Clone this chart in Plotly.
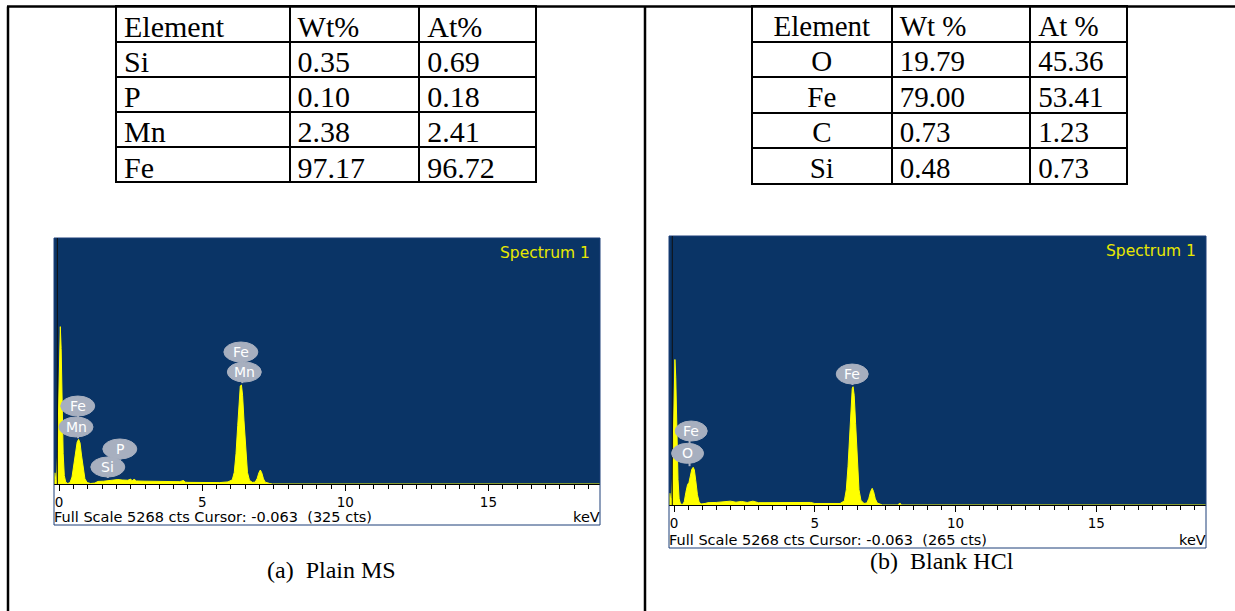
import plotly.graph_objects as go

W, H = 1235, 611

# ---------------- composition tables ----------------
tbl_a_header = ["Element", "Wt%", "At%"]
tbl_a_element = ["Si", "P", "Mn", "Fe"]
tbl_a_wt = ["0.35", "0.10", "2.38", "97.17"]
tbl_a_at = ["0.69", "0.18", "2.41", "96.72"]

tbl_b_header = ["Element", "Wt %", "At %"]
tbl_b_element = ["O", "Fe", "C", "Si"]
tbl_b_wt = ["19.79", "79.00", "0.73", "0.48"]
tbl_b_at = ["45.36", "53.41", "1.23", "0.73"]

# ---------------- EDS spectra (energy keV, counts) ----------------
full_scale = 5268
cursor_kev = -0.063

kev_a = [-0.18, -0.15, -0.12, -0.09, -0.05, -0.02, 0.01, 0.04, 0.07, 0.10, 0.14, 0.18,
         0.23, 0.30, 0.38, 0.45, 0.52, 0.58, 0.63, 0.68, 0.73, 0.78, 0.84, 0.90, 0.98,
         1.10, 1.25, 1.35, 1.55, 1.70, 1.80, 1.95, 2.05, 2.20, 2.40, 2.50, 2.55, 2.62,
         2.70, 3.00, 3.40, 3.80, 4.20, 4.35, 4.40, 4.50, 4.80, 5.10, 5.20, 5.30, 5.60,
         5.90, 6.05, 6.12, 6.18, 6.24, 6.29, 6.33, 6.37, 6.41, 6.46, 6.52, 6.58, 6.65,
         6.75, 6.85, 6.92, 6.98, 7.03, 7.08, 7.14, 7.20, 7.28, 7.36, 7.45, 19.0]
cts_a = [0, 240, 90, 60, 700, 1900, 3000, 3370, 2900, 1700, 650, 180,
         40, 10, 30, 150, 420, 700, 900, 957, 880, 620, 300, 110, 30,
         10, 20, 55, 60, 75, 70, 90, 95, 85, 80, 105, 70, 100,
         65, 60, 55, 55, 50, 75, 40, 35, 30, 30, 25, 30, 30,
         45, 90, 250, 650, 1250, 1800, 2100, 2120, 1900, 1350, 700, 250, 80,
         35, 40, 120, 240, 300, 240, 110, 40, 20, 10, 0, 0]
cts_a_reading = 325

kev_b = [-0.18, -0.15, -0.12, -0.08, -0.05, -0.02, 0.01, 0.03, 0.06, 0.10, 0.14, 0.18,
         0.23, 0.30, 0.36, 0.42, 0.48, 0.53, 0.58, 0.63, 0.68, 0.72, 0.77, 0.83, 0.89,
         0.96, 1.10, 1.20, 1.50, 1.80, 2.00, 2.20, 2.40, 2.60, 2.80, 3.00, 3.50, 4.00,
         4.50, 4.85, 5.00, 5.50, 5.90, 6.05, 6.12, 6.18, 6.24, 6.29, 6.33, 6.36, 6.40,
         6.45, 6.51, 6.57, 6.64, 6.75, 6.85, 6.92, 6.98, 7.04, 7.09, 7.15, 7.22, 7.30,
         7.40, 7.95, 8.02, 8.08, 19.0]
cts_b = [0, 230, 100, 150, 600, 1700, 2600, 2850, 2500, 1400, 500, 120,
         20, 10, 60, 250, 400, 440, 560, 700, 738, 690, 480, 200, 60,
         20, 30, 45, 50, 60, 75, 55, 70, 50, 75, 45, 45, 45,
         45, 50, 30, 25, 30, 80, 300, 750, 1450, 2000, 2280, 2317, 2150,
         1600, 850, 300, 90, 30, 40, 130, 260, 327, 260, 120, 40, 15,
         0, 0, 40, 0, 0]
cts_b_reading = 265

# peak identification labels: element, energy (keV), label height (counts)
lab_a_el = ["Fe", "Mn", "P", "Si", "Fe", "Mn"]
lab_a_kev = [0.65, 0.59, 2.12, 1.70, 6.35, 6.47]
lab_a_cts = [1670, 1221, 750, 364, 2827, 2398]
# marker stems: energy, top counts, bottom counts
stem_a = [(0.66, 1670, 980), (2.14, 750, 520), (1.70, 364, 128), (6.40, 2827, 2160)]

lab_b_el = ["Fe", "Fe", "O"]
lab_b_kev = [6.33, 0.61, 0.48]
lab_b_cts = [2565, 1449, 1012]
stem_b = [(6.34, 2565, 2350), (0.55, 1449, 760)]

captions = ["(a)  Plain MS", "(b)  Blank HCl"]

# ---------------- helpers ----------------
def fx(x):
    return x / W


def fy(y):
    return 1 - y / H


BLUE = "#0a3466"
YELLOW = "#ffff00"
BADGE = "#a7afbf"
SERIF = "Liberation Serif, Times New Roman, serif"
SANS = "DejaVu Sans, Verdana, sans-serif"

fig = go.Figure()

# ---- tables ----
fig.add_trace(go.Table(
    domain=dict(x=[fx(116), fx(537)], y=[fy(184), fy(6)]),
    columnwidth=[174, 130, 117],
    header=dict(values=tbl_a_header, height=35.5, align="left",
                line=dict(color="black", width=2), fill=dict(color="white"),
                font=dict(family=SERIF, size=30, color="black")),
    cells=dict(values=[tbl_a_element, tbl_a_wt, tbl_a_at], height=35.2, align="left",
               line=dict(color="black", width=2), fill=dict(color="white"),
               font=dict(family=SERIF, size=30, color="black")),
))
fig.add_trace(go.Table(
    domain=dict(x=[fx(752), fx(1128)], y=[fy(186), fy(6)]),
    columnwidth=[140, 139, 97],
    header=dict(values=tbl_b_header, height=35.5, align=["center", "left", "left"],
                line=dict(color="black", width=2), fill=dict(color="white"),
                font=dict(family=SERIF, size=29, color="black")),
    cells=dict(values=[tbl_b_element, tbl_b_wt, tbl_b_at], height=35.5,
               align=["center", "left", "left"],
               line=dict(color="black", width=2), fill=dict(color="white"),
               font=dict(family=SERIF, size=29, color="black")),
))

# ---- spectra ----
fig.add_trace(go.Scatter(x=kev_a, y=cts_a, mode="lines", fill="tozeroy",
                         fillcolor=YELLOW, line=dict(color=YELLOW, width=1),
                         xaxis="x", yaxis="y", hoverinfo="skip", showlegend=False))
fig.add_trace(go.Scatter(x=kev_b, y=cts_b, mode="lines", fill="tozeroy",
                         fillcolor=YELLOW, line=dict(color=YELLOW, width=1),
                         xaxis="x2", yaxis="y2", hoverinfo="skip", showlegend=False))

# pixel boxes of the two spectrum panels: left, right, top, axis line, bottom
panels = [
    dict(l=54, r=600, t=238, ax=484, b=525, xa="x", ya="y", bw=17, bh=10,
         labs=(lab_a_el, lab_a_kev, lab_a_cts), stems=stem_a, reading=cts_a_reading),
    dict(l=669, r=1206, t=236, ax=505, b=548, xa="x2", ya="y2", bw=16, bh=10,
         labs=(lab_b_el, lab_b_kev, lab_b_cts), stems=stem_b, reading=cts_b_reading),
]

axis_common = dict(
    range=[-0.18, 18.9], showgrid=False, zeroline=False, fixedrange=True,
    ticks="outside", tick0=0, dtick=5, ticklen=6, tickwidth=1, tickcolor="black",
    minor=dict(ticks="outside", dtick=0.5, ticklen=4, tickwidth=1, tickcolor="black",
               showgrid=False),
    showline=True, linecolor="black", linewidth=1,
    tickfont=dict(family=SANS, size=13.5, color="black"),
)
yaxis_common = dict(range=[0, full_scale], visible=False, showgrid=False,
                    zeroline=False, fixedrange=True)

shapes = []
annotations = []

for i, p in enumerate(panels):
    xa_key = "xaxis" if i == 0 else "xaxis2"
    ya_key = "yaxis" if i == 0 else "yaxis2"
    fig.layout[xa_key] = dict(axis_common, domain=[fx(p["l"]), fx(p["r"])], anchor=p["ya"])
    fig.layout[ya_key] = dict(yaxis_common, domain=[fy(p["ax"]), fy(p["t"])], anchor=p["xa"])

    # white energy strip under the plot area and the panel outline
    shapes.append(dict(type="rect", xref="paper", yref="paper", layer="below",
                       x0=fx(p["l"]), x1=fx(p["r"]), y0=fy(p["b"]), y1=fy(p["ax"]),
                       fillcolor="white", line=dict(width=0)))
    shapes.append(dict(type="rect", xref="paper", yref="paper", layer="above",
                       x0=fx(p["l"]), x1=fx(p["r"]), y0=fy(p["b"]), y1=fy(p["t"]),
                       fillcolor="rgba(0,0,0,0)", line=dict(color="#1d3f78", width=1)))
    # cursor line
    shapes.append(dict(type="line", xref=p["xa"], yref=p["ya"] + " domain",
                       x0=cursor_kev, x1=cursor_kev, y0=0, y1=1,
                       line=dict(color="#101010", width=1)))
    # label stems
    for (k, ytop, ybot) in p["stems"]:
        shapes.append(dict(type="line", xref=p["xa"], yref=p["ya"],
                           x0=k, x1=k, y0=ybot, y1=ytop,
                           line=dict(color=BADGE, width=2)))
    # label badges
    els, kevs, ctss = p["labs"]
    for el, k, c in zip(els, kevs, ctss):
        shapes.append(dict(type="circle", xref=p["xa"], yref=p["ya"],
                           xsizemode="pixel", ysizemode="pixel", xanchor=k, yanchor=c,
                           x0=-p["bw"], x1=p["bw"], y0=-p["bh"], y1=p["bh"],
                           fillcolor=BADGE, line=dict(color=BADGE, width=1)))
        annotations.append(dict(xref=p["xa"], yref=p["ya"], x=k, y=c, text=el,
                                showarrow=False, xanchor="center", yanchor="middle",
                                font=dict(family=SANS, size=14, color="white")))
    # panel texts
    annotations.append(dict(xref=p["xa"] + " domain", yref=p["ya"] + " domain",
                            x=0.985, y=0.985, xanchor="right", yanchor="top",
                            text="Spectrum 1", showarrow=False,
                            font=dict(family=SANS, size=15.5, color="#e8e800")))
    annotations.append(dict(xref="paper", yref="paper", x=fx(p["l"] - 1),
                            y=fy(p["b"] - 8), xanchor="left", yanchor="middle",
                            text=f"Full Scale {full_scale} cts Cursor: {cursor_kev:.3f}  ({p['reading']} cts)",
                            showarrow=False, borderpad=0,
                            font=dict(family=SANS, size=14.5, color="black")))
    annotations.append(dict(xref="paper", yref="paper", x=fx(p["r"] + 1),
                            y=fy(p["b"] - 8), xanchor="right", yanchor="middle",
                            text="keV", showarrow=False, borderpad=0,
                            font=dict(family=SANS, size=14.5, color="black")))

# captions
annotations.append(dict(xref="paper", yref="paper", x=fx(331), y=fy(570),
                        xanchor="center", yanchor="middle", text=captions[0],
                        showarrow=False, font=dict(family=SERIF, size=24, color="black")))
annotations.append(dict(xref="paper", yref="paper", x=fx(942), y=fy(561),
                        xanchor="center", yanchor="middle", text=captions[1],
                        showarrow=False, borderpad=0,
                        font=dict(family=SERIF, size=24, color="black")))

# outer frame of the two-panel layout
frame = dict(color="black", width=2.5)
shapes.append(dict(type="line", xref="paper", yref="paper", x0=fx(7), x1=1,
                   y0=fy(6.5), y1=fy(6.5), line=frame))
shapes.append(dict(type="line", xref="paper", yref="paper", x0=fx(8), x1=fx(8),
                   y0=fy(6.5), y1=0, line=frame))
shapes.append(dict(type="line", xref="paper", yref="paper", x0=fx(645), x1=fx(645),
                   y0=fy(6.5), y1=0, line=frame))

fig.update_layout(
    width=W, height=H, margin=dict(l=0, r=0, t=0, b=0),
    paper_bgcolor="white", plot_bgcolor=BLUE, showlegend=False,
    shapes=shapes, annotations=annotations,
)

fig.write_html("out.html")
